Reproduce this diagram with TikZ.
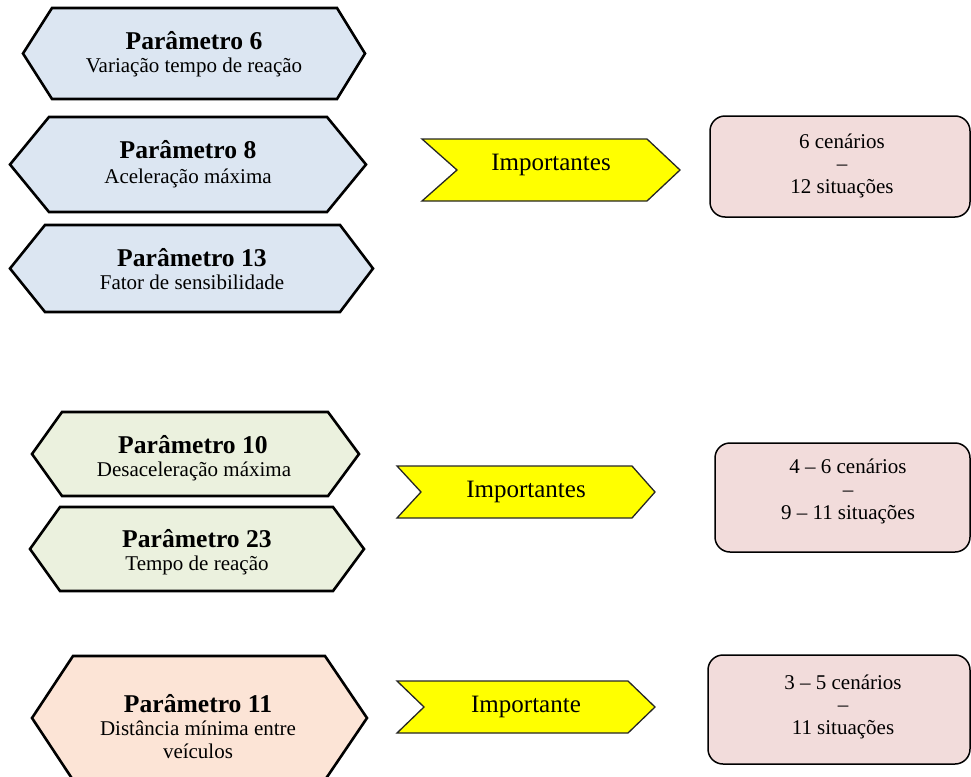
\documentclass[tikz,border=0pt]{standalone}
\usepackage{fontspec}
\setmainfont{Liberation Serif}
\definecolor{hexblue}{HTML}{DCE6F2}
\definecolor{hexgreen}{HTML}{EBF1DE}
\definecolor{hexpeach}{HTML}{FCE4D6}
\definecolor{respink}{HTML}{F2DCDB}
\definecolor{chevyellow}{HTML}{FFFF00}
\tikzset{
  hexbox/.style={draw=black, line width=2.6pt, line join=miter},
  chevbox/.style={draw=black!85, line width=1.3pt, line join=miter, fill=chevyellow},
  resbox/.style={draw=black, line width=1.5pt, rounded corners=15pt, fill=respink},
  ptitle/.style={font=\fontsize{25.6}{30}\selectfont\bfseries, anchor=base, inner sep=0pt},
  pdesc/.style={font=\fontsize{21}{25}\selectfont, anchor=base, inner sep=0pt},
  chevtext/.style={font=\fontsize{25}{30}\selectfont, anchor=base, inner sep=0pt},
  restext/.style={font=\fontsize{21}{25}\selectfont, anchor=base, inner sep=0pt}
}
% hexagon: left tip x, inner left x, inner right x, right tip x, top y, bottom y
\newcommand\hexpanel[7]{%
  \draw[hexbox, fill=#7] (#1,{(#5+#6)/2}) -- (#2,#5) -- (#3,#5) -- (#4,{(#5+#6)/2})
    -- (#3,#6) -- (#2,#6) -- cycle;}
% chevron: left x, notch x, shoulder x, tip x, top y, bottom y
\newcommand\chevpanel[6]{%
  \draw[chevbox] (#1,#5) -- (#3,#5) -- (#4,{(#5+#6)/2}) -- (#3,#6) -- (#1,#6)
    -- (#2,{(#5+#6)/2}) -- cycle;}
\begin{document}
\begin{tikzpicture}[x=1pt,y=-1pt]
\useasboundingbox (0,0) rectangle (971,776);

% parameter panels
\hexpanel{23}{52}{337}{365}{8}{99}{hexblue}
\hexpanel{10}{49}{327}{366}{117}{212}{hexblue}
\hexpanel{10}{45}{340}{373}{225}{312}{hexblue}
\hexpanel{32}{62}{328}{359}{412}{496}{hexgreen}
\hexpanel{30}{60}{333}{364}{507}{591}{hexgreen}
\hexpanel{32}{73}{325}{367}{656}{780}{hexpeach}

\node[ptitle] (p6t) at (194,49) {Parâmetro 6};
\node[pdesc]  (p6d) at (194,73) {Variação tempo de reação};
\node[ptitle] (p8t) at (188,158) {Parâmetro 8};
\node[pdesc]  (p8d) at (188,183) {Aceleração máxima};
\node[ptitle] (p13t) at (192,266) {Parâmetro 13};
\node[pdesc]  (p13d) at (192,289) {Fator de sensibilidade};
\node[ptitle] (p10t) at (193,453) {Parâmetro 10};
\node[pdesc]  (p10d) at (194,476) {Desaceleração máxima};
\node[ptitle] (p23t) at (197,547) {Parâmetro 23};
\node[pdesc]  (p23d) at (197,570) {Tempo de reação};
\node[ptitle] (p11t) at (198,712) {Parâmetro 11};
\node[pdesc]  (p11d) at (198,735) {Distância mínima entre};
\node[pdesc]  (p11e) at (198,758) {veículos};

% importance chevrons
\chevpanel{422}{457}{647}{680}{139}{201}
\chevpanel{397}{421}{632}{655}{466}{518}
\chevpanel{397}{424}{628}{655}{681}{733}
\node[chevtext] (imp1) at (551,170) {Importantes};
\node[chevtext] (imp2) at (526,497) {Importantes};
\node[chevtext] (imp3) at (526,712) {Importante};

% result boxes
\draw[resbox] (710,116) rectangle (970,217);
\draw[resbox] (715,443) rectangle (970,552);
\draw[resbox] (708,655) rectangle (970,764);
\node[restext] (r1a) at (842,148) {6 cenários};
\node[restext] (r1b) at (842,170.5) {–};
\node[restext] (r1c) at (842,193) {12 situações};
\node[restext] (r2a) at (848,473) {4 – 6 cenários};
\node[restext] (r2b) at (848,496) {–};
\node[restext] (r2c) at (848,519) {9 – 11 situações};
\node[restext] (r3a) at (843,689) {3 – 5 cenários};
\node[restext] (r3b) at (843,711.5) {–};
\node[restext] (r3c) at (843,734) {11 situações};
\end{tikzpicture}
\end{document}
